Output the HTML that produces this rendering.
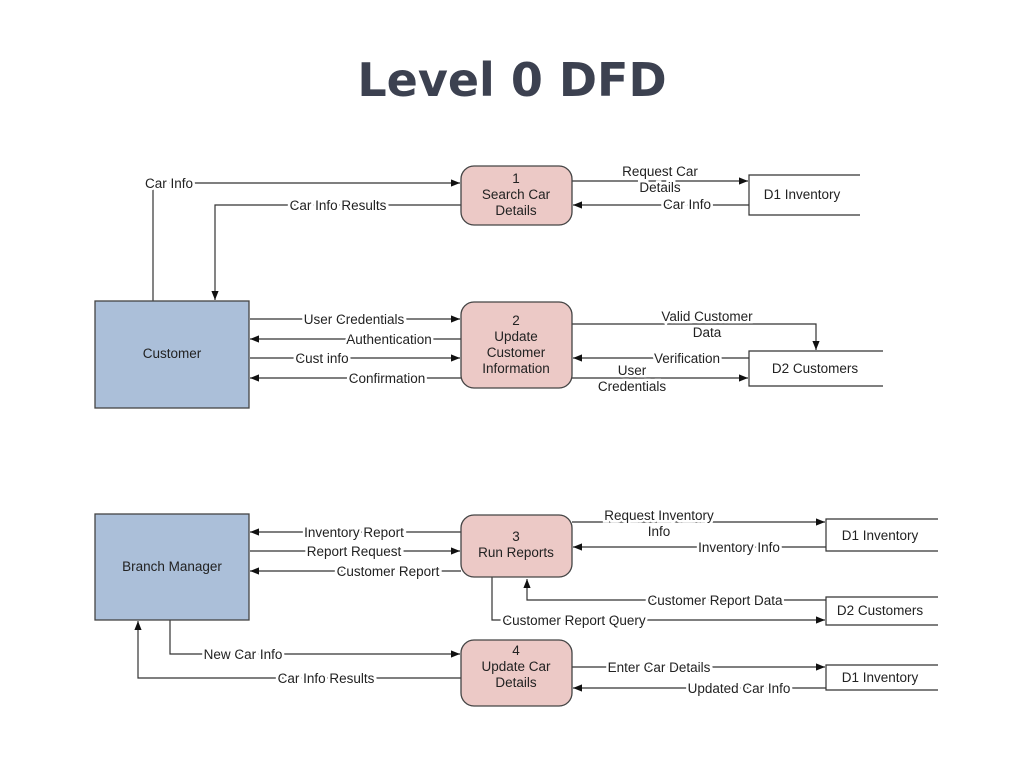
<!DOCTYPE html>
<html><head><meta charset="utf-8"><style>
html,body{margin:0;padding:0;background:#fff;width:1024px;height:768px;overflow:hidden}
svg text{font-family:"Liberation Sans",Arial,sans-serif;font-size:13.5px;fill:#222}
.t{font-family:"DejaVu Sans","Liberation Sans",sans-serif;font-weight:bold;font-size:46px;fill:#3c4150}
.lb{paint-order:stroke;stroke:#fff;stroke-width:5px}
</style></head><body>
<svg width="1024" height="768" viewBox="0 0 1024 768" xmlns="http://www.w3.org/2000/svg">
<defs><marker id="a" viewBox="0 0 10 10" refX="10" refY="5" markerWidth="12" markerHeight="9" orient="auto" markerUnits="userSpaceOnUse"><path d="M0,1 L10,5 L0,9 z" fill="#111"/></marker></defs>
<text class="t" x="512" y="96" text-anchor="middle">Level 0 DFD</text>
<g stroke="#333" stroke-width="1.2" fill="none">
<path d="M153,301 V183 H460" marker-end="url(#a)"/>
<path d="M461,205 H215 V300" marker-end="url(#a)"/>
<path d="M572,181 H748" marker-end="url(#a)"/>
<path d="M749,205 H573" marker-end="url(#a)"/>
<path d="M250,319 H460" marker-end="url(#a)"/>
<path d="M461,339 H250" marker-end="url(#a)"/>
<path d="M250,358 H460" marker-end="url(#a)"/>
<path d="M461,378 H250" marker-end="url(#a)"/>
<path d="M572,324 H816 V350" marker-end="url(#a)"/>
<path d="M749,358 H573" marker-end="url(#a)"/>
<path d="M572,378 H748" marker-end="url(#a)"/>
<path d="M461,532 H250" marker-end="url(#a)"/>
<path d="M250,551 H460" marker-end="url(#a)"/>
<path d="M461,571 H250" marker-end="url(#a)"/>
<path d="M572,522 H825" marker-end="url(#a)"/>
<path d="M826,547 H573" marker-end="url(#a)"/>
<path d="M826,600 H527 V579" marker-end="url(#a)"/>
<path d="M492,577 V620 H825" marker-end="url(#a)"/>
<path d="M170,620 V654 H460" marker-end="url(#a)"/>
<path d="M461,678 H138 V621" marker-end="url(#a)"/>
<path d="M572,667 H825" marker-end="url(#a)"/>
<path d="M826,688 H573" marker-end="url(#a)"/>
<path d="M860,175 H749 V215 H860"/>
<path d="M883,351 H749 V386 H883"/>
<path d="M938,519 H826 V551 H938"/>
<path d="M938,597 H826 V625 H938"/>
<path d="M938,665 H826 V690 H938"/>
</g>
<g stroke="#444" stroke-width="1.3">
<rect x="95" y="301" width="154" height="107" fill="#abbfd9"/>
<rect x="95" y="514" width="154" height="106" fill="#abbfd9"/>
<rect x="461" y="166" width="111" height="59" rx="13" fill="#ecc9c6"/>
<rect x="461" y="302" width="111" height="86" rx="13" fill="#ecc9c6"/>
<rect x="461" y="515" width="111" height="62" rx="13" fill="#ecc9c6"/>
<rect x="461" y="640" width="111" height="66" rx="13" fill="#ecc9c6"/>
</g>
<g text-anchor="middle">
<text x="172" y="358">Customer</text>
<text x="172" y="571">Branch Manager</text>
<text x="516" y="183">1</text><text x="516" y="199">Search Car</text><text x="516" y="215">Details</text>
<text x="516" y="325">2</text><text x="516" y="341">Update</text><text x="516" y="357">Customer</text><text x="516" y="373">Information</text>
<text x="516" y="541">3</text><text x="516" y="557">Run Reports</text>
<text x="516" y="655">4</text><text x="516" y="671">Update Car</text><text x="516" y="687">Details</text>
<text x="802" y="199">D1 Inventory</text>
<text x="815" y="373">D2 Customers</text>
<text x="880" y="540">D1 Inventory</text>
<text x="880" y="615">D2 Customers</text>
<text x="880" y="682">D1 Inventory</text>
</g>
<g text-anchor="middle">
<text x="169" y="188" class="lb">Car Info</text>
<text x="338" y="210" class="lb">Car Info Results</text>
<text x="660" y="176" class="lb">Request Car</text>
<text x="660" y="192" class="lb">Details</text>
<text x="687" y="209" class="lb">Car Info</text>
<text x="354" y="324" class="lb">User Credentials</text>
<text x="389" y="344" class="lb">Authentication</text>
<text x="322" y="363" class="lb">Cust info</text>
<text x="387" y="383" class="lb">Confirmation</text>
<text x="707" y="321" class="lb">Valid Customer</text>
<text x="707" y="337" class="lb">Data</text>
<text x="687" y="363" class="lb">Verification</text>
<text x="632" y="375" class="lb">User</text>
<text x="632" y="391" class="lb">Credentials</text>
<text x="354" y="537" class="lb">Inventory Report</text>
<text x="354" y="556" class="lb">Report Request</text>
<text x="388" y="576" class="lb">Customer Report</text>
<text x="659" y="520" class="lb">Request Inventory</text>
<text x="659" y="536" class="lb">Info</text>
<text x="739" y="552" class="lb">Inventory Info</text>
<text x="715" y="605" class="lb">Customer Report Data</text>
<text x="574" y="625" class="lb">Customer Report Query</text>
<text x="243" y="659" class="lb">New Car Info</text>
<text x="326" y="683" class="lb">Car Info Results</text>
<text x="659" y="672" class="lb">Enter Car Details</text>
<text x="739" y="693" class="lb">Updated Car Info</text>
</g>
</svg>
</body></html>
